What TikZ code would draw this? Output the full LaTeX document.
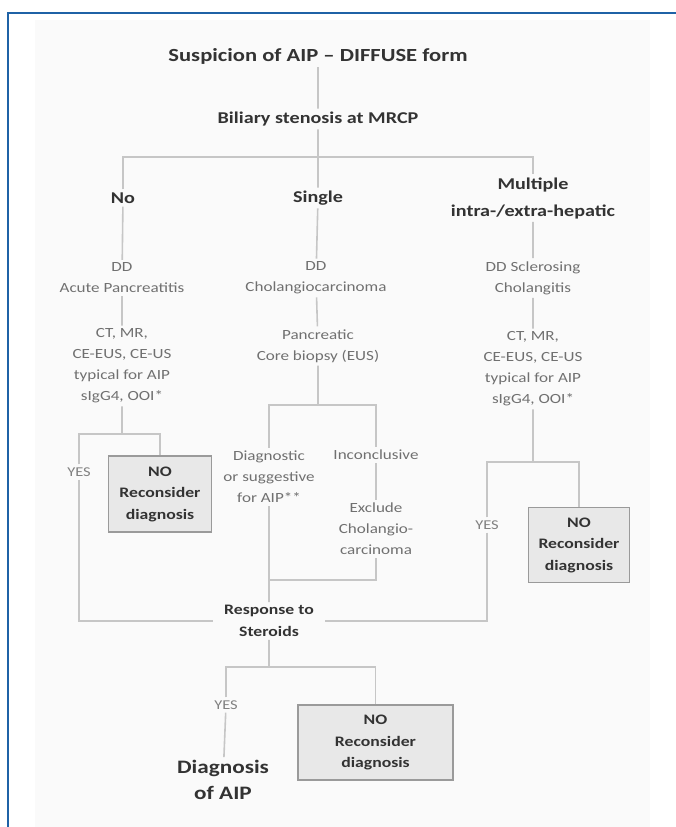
\documentclass[tikz,border=0pt]{standalone}
\usepackage{fontspec}
\setmainfont{Carlito}
\definecolor{frameblue}{HTML}{1F62A6}
\definecolor{pagegrey}{HTML}{FAFAFA}
\definecolor{linegrey}{HTML}{C6C6C6}
\definecolor{txtdark}{HTML}{333333}
\definecolor{txtgrey}{HTML}{707070}
\definecolor{boxfill}{HTML}{E8E8E8}
\definecolor{boxline}{HTML}{9A9A9A}

\begin{document}
\begin{tikzpicture}[x=1pt,y=-1pt]
  \tikzstyle{txt}=[xscale=1.22,align=center,inner sep=3pt]
  \tikzstyle{head}=[txt,font=\bfseries\fontsize{16.5}{27}\selectfont,text=txtdark]
  \tikzstyle{note}=[txt,font=\fontsize{14}{21}\selectfont,text=txtgrey]
  \tikzstyle{yes}=[txt,font=\fontsize{13.5}{16}\selectfont,text=gray]
  \tikzstyle{nobox}=[txt,draw=boxline,fill=boxfill,line width=1.2pt,font=\bfseries\fontsize{14.5}{21.5}\selectfont,text=txtdark,minimum width=83pt,minimum height=75pt]
  \tikzstyle{link}=[draw=linegrey,line width=1.6pt]

  \useasboundingbox (0,0) rectangle (676,827);
  \fill[pagegrey] (35,20) rectangle (650,827); % Light page
  \draw[frameblue,line width=2.2pt] (676,13) -- (8,13) -- (8,827); % Blue frame

  \node[head,font=\bfseries\fontsize{18.5}{22}\selectfont] (title) at (318,56) {Suspicion of AIP -- DIFFUSE form};
  \node[head] (bil) at (318,119) {Biliary stenosis at MRCP};
  \node[head] (no) at (123,198) {No};
  \node[head] (single) at (318,198) {Single};
  \node[head] (multi) at (533,198) {Multiple\\intra-/extra-hepatic};
  \coordinate (j0) at (318,157); % Top bar

  % Left column
  \node[note] (ddno) at (122,278) {DD\\Acute Pancreatitis};
  \node[note] (ctno) at (122,366) {CT, MR,\\CE-EUS, CE-US\\typical for AIP\\sIgG4, OOI*};
  \coordinate (jno) at (122,434);
  \node[yes] (yesno) at (79,472) {YES};
  \node[nobox,minimum width=84pt,minimum height=76pt] (boxno) at (160,494) {NO\\Reconsider\\diagnosis};

  % Middle column
  \node[note] (ddsingle) at (316,278) {DD\\Cholangiocarcinoma};
  \node[note] (core) at (318,346) {Pancreatic\\Core biopsy (EUS)};
  \coordinate (jsingle) at (318,405);
  \node[note] (diagsug) at (269,477) {Diagnostic\\or suggestive\\for AIP**};
  \node[note] (inconc) at (376,455) {Inconclusive};
  \node[note] (exclude) at (376,529) {Exclude\\Cholangio-\\carcinoma};
  \coordinate (jexcl) at (269,580);

  % Right column
  \node[note] (ddmulti) at (533,278) {DD Sclerosing\\Cholangitis};
  \node[note] (ctmulti) at (533,369) {CT, MR,\\CE-EUS, CE-US\\typical for AIP\\sIgG4, OOI*};
  \coordinate (jmulti) at (533,462);
  \node[yes] (yesmulti) at (487,525) {YES};
  \node[nobox] (boxmulti) at (579,545) {NO\\Reconsider\\diagnosis};

  % Steroids
  \node[head,font=\bfseries\fontsize{14.5}{22}\selectfont,inner xsep=9pt] (resp) at (269,621) {Response to\\Steroids};
  \coordinate (jresp) at (269,667);
  \node[yes] (yesresp) at (226,705) {YES};
  \node[nobox,minimum width=127pt] (boxresp) at (375.5,742.5) {NO\\Reconsider\\diagnosis};
  \node[head,font=\bfseries\fontsize{19}{26}\selectfont] (diag) at (223,780) {Diagnosis\\of AIP};

  \draw[link] (title) -- (bil);
  \draw[link] (bil) -- (j0);
  \draw[link] (no) |- (j0) -| (multi);
  \draw[link] (j0) -- (single);
  \draw[link] (no) -- (ddno);
  \draw[link] (single) -- (ddsingle);
  \draw[link] (multi) -- (ddmulti);
  \draw[link] (ddno) -- (ctno);
  \draw[link] (ddsingle) -- (core);
  \draw[link] (ddmulti) -- (ctmulti);
  \draw[link] (ctno) -- (jno);
  \draw[link] (yesno) |- (jno) -| (boxno);
  \draw[link] (core) -- (jsingle);
  \draw[link] (diagsug) |- (jsingle) -| (inconc);
  \draw[link] (inconc) -- (exclude);
  \draw[link] (exclude) |- (jexcl);
  \draw[link] (diagsug) -- (resp);
  \draw[link] (ctmulti) -- (jmulti);
  \draw[link] (yesmulti) |- (jmulti) -| (boxmulti);
  \draw[link] (yesno) |- (resp);
  \draw[link] (yesmulti) |- (resp);
  \draw[link] (resp) -- (jresp);
  \draw[link] (yesresp) |- (jresp) -| (boxresp);
  \draw[link] (yesresp) -- (diag);
\end{tikzpicture}
\end{document}
